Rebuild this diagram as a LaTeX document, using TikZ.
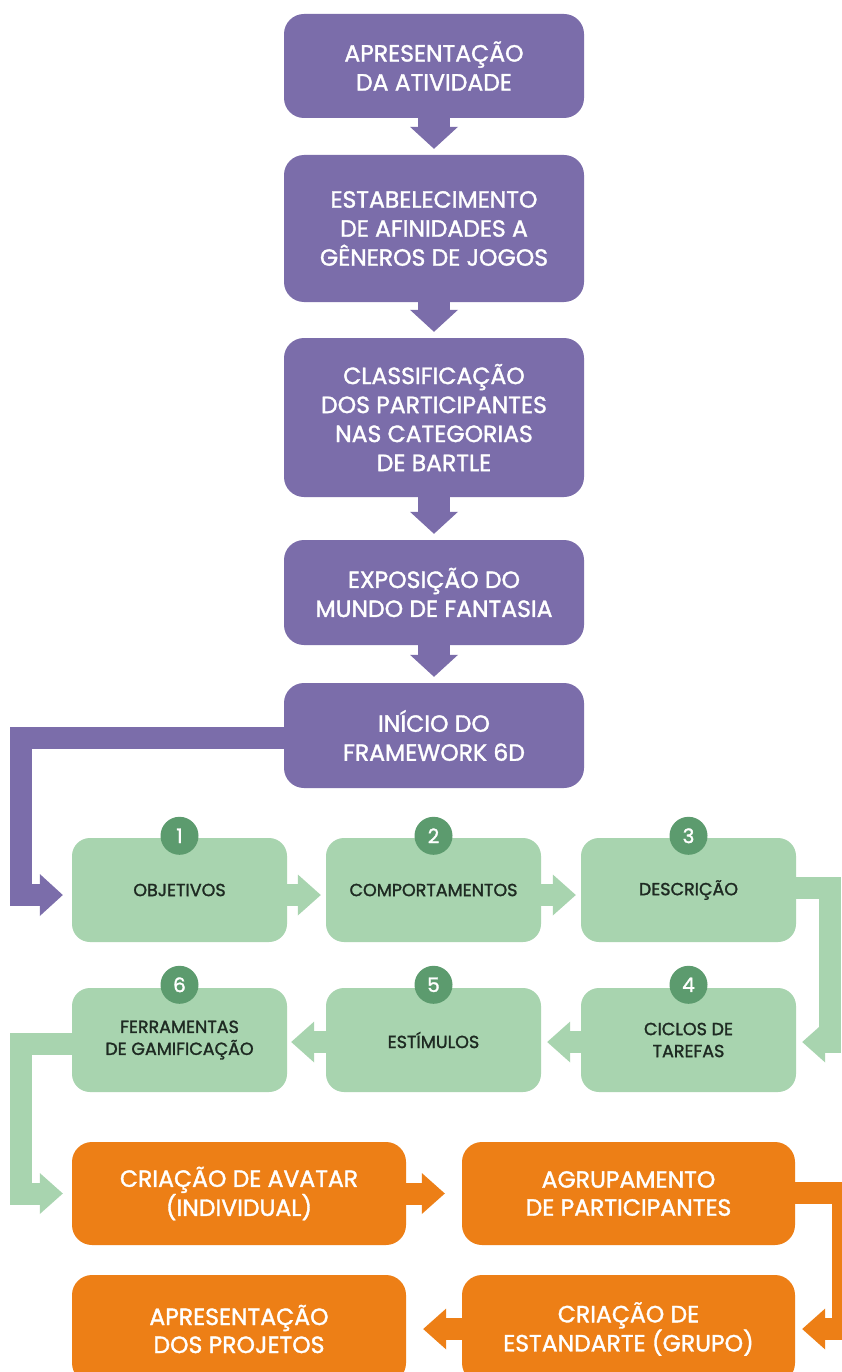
\documentclass[tikz,border=0pt]{standalone}
\usepackage{fontspec}
\setmainfont{Poppins}
\newfontfamily\medfont{Poppins}[FakeBold=1.5]
\usetikzlibrary{arrows.meta,calc}
\definecolor{purp}{HTML}{7B6DAA}
\definecolor{lgreen}{HTML}{A8D4AF}
\definecolor{dgreen}{HTML}{5C9B6E}
\definecolor{orng}{HTML}{ED7F16}
\definecolor{txtdark}{HTML}{1E2A22}
\begin{document}
\begin{tikzpicture}[x=1pt,y=-1pt,
  pbox/.style={fill=purp, rounded corners=20pt, minimum width=300pt, text=white, align=center, inner sep=0pt, font=\medfont\fontsize{23.5}{29}\selectfont},
  gbox/.style={fill=lgreen, rounded corners=18pt, minimum width=215pt, minimum height=104pt, text=txtdark, align=center, inner sep=0pt, font=\medfont\fontsize{17.5}{22}\selectfont},
  obox/.style={fill=orng, rounded corners=20pt, minimum width=334pt, text=white, align=center, inner sep=0pt, font=\medfont\fontsize{23.5}{28}\selectfont},
  numc/.style={circle, fill=dgreen, minimum size=38pt, inner sep=0pt, text=white, font=\medfont\fontsize{20}{20}\selectfont},
  pdown/.style={draw=purp, line width=32pt, -{Triangle[length=22pt 0, width=48pt 0, line width=0pt]}},
  pconn/.style={draw=purp, line width=22pt, line join=miter, -{Triangle[length=23pt 0, width=42pt 0, line width=0pt]}},
  gconn/.style={draw=lgreen, line width=22pt, line join=miter, -{Triangle[length=23pt 0, width=41pt 0, line width=0pt]}},
  oconn/.style={draw=orng, line width=22pt, line join=miter, -{Triangle[length=23pt 0, width=41pt 0, line width=0pt]}}
]
\useasboundingbox (0,0) rectangle (841,1372);
\fill[white] (0,0) rectangle (841,1372);

% purple column
\node[pbox, minimum height=104pt] (p1) at (434,66) {APRESENTAÇÃO\\DA ATIVIDADE};
\node[pbox, minimum height=147pt] (p2) at (434,228.5) {ESTABELECIMENTO\\DE AFINIDADES A\\GÊNEROS DE JOGOS};
\node[pbox, minimum height=159pt] (p3) at (434,417.5) {CLASSIFICAÇÃO\\DOS PARTICIPANTES\\NAS CATEGORIAS\\DE BARTLE};
\node[pbox, minimum height=105pt] (p4) at (434,592.5) {EXPOSIÇÃO DO\\MUNDO DE FANTASIA};
\node[pbox, minimum height=105pt] (p5) at (434,735.5) {INÍCIO DO\\FRAMEWORK 6D};

\draw[pdown] (p1.south) -- ([yshift=6pt]p2.north);
\draw[pdown] (p2.south) -- ([yshift=6pt]p3.north);
\draw[pdown] (p3.south) -- ([yshift=6pt]p4.north);
\draw[pdown] (p4.south) -- ([yshift=6pt]p5.north);

% green boxes
\node[gbox] (g1) at (179.5,890) {OBJETIVOS};
\node[gbox] (g2) at (433.5,890) {COMPORTAMENTOS};
\node[gbox] (g3) at (688.5,890) {DESCRIÇÃO};
\node[gbox] (g4) at (688.5,1040) {CICLOS DE\\TAREFAS};
\node[gbox] (g5) at (433.5,1040) {ESTÍMULOS};
\node[gbox] (g6) at (179.5,1040) {FERRAMENTAS\\DE GAMIFICAÇÃO};

\node[numc] (n1) at ([yshift=2pt]g1.north) {1};
\node[numc] (n2) at ([yshift=2pt]g2.north) {2};
\node[numc] (n3) at ([yshift=2pt]g3.north) {3};
\node[numc] (n4) at ([yshift=3pt]g4.north) {4};
\node[numc] (n5) at ([yshift=3pt]g5.north) {5};
\node[numc] (n6) at ([yshift=3pt]g6.north) {6};

% orange boxes
\node[obox, minimum height=103pt] (o1) at (239,1193.5) {CRIAÇÃO DE AVATAR\\(INDIVIDUAL)};
\node[obox, minimum height=103pt, minimum width=333pt] (o2) at (628.5,1193.5) {AGRUPAMENTO\\DE PARTICIPANTES};
\node[obox, minimum height=108pt, minimum width=333pt] (o3) at (628.5,1329) {CRIAÇÃO DE\\ESTANDARTE (GRUPO)};
\node[obox, minimum height=108pt] (o4) at (239,1329) {APRESENTAÇÃO\\DOS PROJETOS};

% purple L connector
\draw[pconn] ([yshift=-2pt]p5.west) -- ++(-262.5,0) |- ([xshift=-9pt,yshift=-5pt]g1.west);

% green connectors
\draw[gconn] ([yshift=-5pt]g1.east) -- ([xshift=-5pt,yshift=-5pt]g2.west);
\draw[gconn] ([yshift=-5pt]g2.east) -- ([xshift=-5pt,yshift=-5pt]g3.west);
\draw[gconn] ([yshift=2pt]g3.east) -- ++(33.5,0) |- ([xshift=6pt,yshift=-2pt]g4.east);
\draw[gconn] ([yshift=-2pt]g4.west) -- ([xshift=6pt,yshift=-2pt]g5.east);
\draw[gconn] ([yshift=-2pt]g5.west) -- ([xshift=4pt,yshift=-2pt]g6.east);
\draw[gconn] ([yshift=-4pt]g6.west) -- ++(-50.5,0) |- ([xshift=-9pt]o1.west);

% orange connectors
\draw[oconn] (o1.east) -- ([xshift=-17pt]o2.west);
\draw[oconn] ([yshift=1pt]o2.east) -- ++(48,0) |- ([xshift=7pt]o3.east);
\draw[oconn] (o3.west) -- ([xshift=17pt]o4.east);
\end{tikzpicture}
\end{document}
